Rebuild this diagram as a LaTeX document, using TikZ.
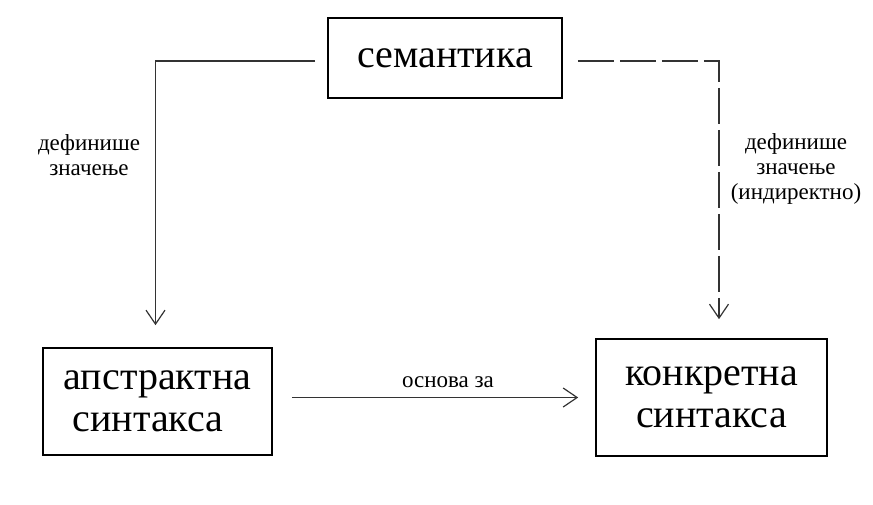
\documentclass[tikz,border=0pt]{standalone}
\usepackage{fontspec}
\setmainfont{Liberation Serif}
\usetikzlibrary{arrows.meta, calc}

\begin{document}
\begin{tikzpicture}[x=1pt, y=-1pt]
		\tikzset{box/.style = {shape=rectangle, draw, line width=1.6pt, align=center, inner sep=0pt,
				font=\fontsize{40}{42}\selectfont}}
		\tikzset{lbl/.style = {align=center, inner sep=0pt, font=\fontsize{23}{25}\selectfont}}
		\tikzset{edge/.style = {draw=black!80, line width=1.3pt, -{Straight Barb[length=14pt, width=19pt, line width=1.2pt]}}}
		\tikzset{dashedge/.style = {edge, dash pattern=on 36pt off 6pt}}

		\useasboundingbox (0,0) rectangle (873,504);

		\node[box, minimum width=234pt, minimum height=80pt] (sem) at (445,58) {семантика};
		\node[box, minimum width=229pt, minimum height=107pt] (aps) at (157.5,401.5) {апстрактна\\синтакса\hspace*{19pt}};
		\node[box, minimum width=231pt, minimum height=117pt] (kon) at (711.5,397.5) {конкретна\\синтакса};

		\coordinate (lc) at (155.5,61);
		\coordinate (rc) at (719,61);

		\node[lbl] (defl) at (89,155.5) {дефинише\\значење};
		\node[lbl] (defr) at (796,169) {дефинише\\значење\\(индиректно)};
		\node[lbl, anchor=base] (osn) at (448,387) {основа за};

		\draw[edge, shorten >=22pt] ([xshift=-12pt, yshift=-3pt]sem.west) -- (lc) -- (aps.north -| lc);
		\draw[dashedge, shorten >=19pt] ([xshift=15pt, yshift=-3pt]sem.east) -- (rc) -- (kon.north -| rc);
		\draw[edge, shorten <=19pt, shorten >=17pt] (aps.east |- kon.west) -- (kon.west);

	\end{tikzpicture}
\end{document}
